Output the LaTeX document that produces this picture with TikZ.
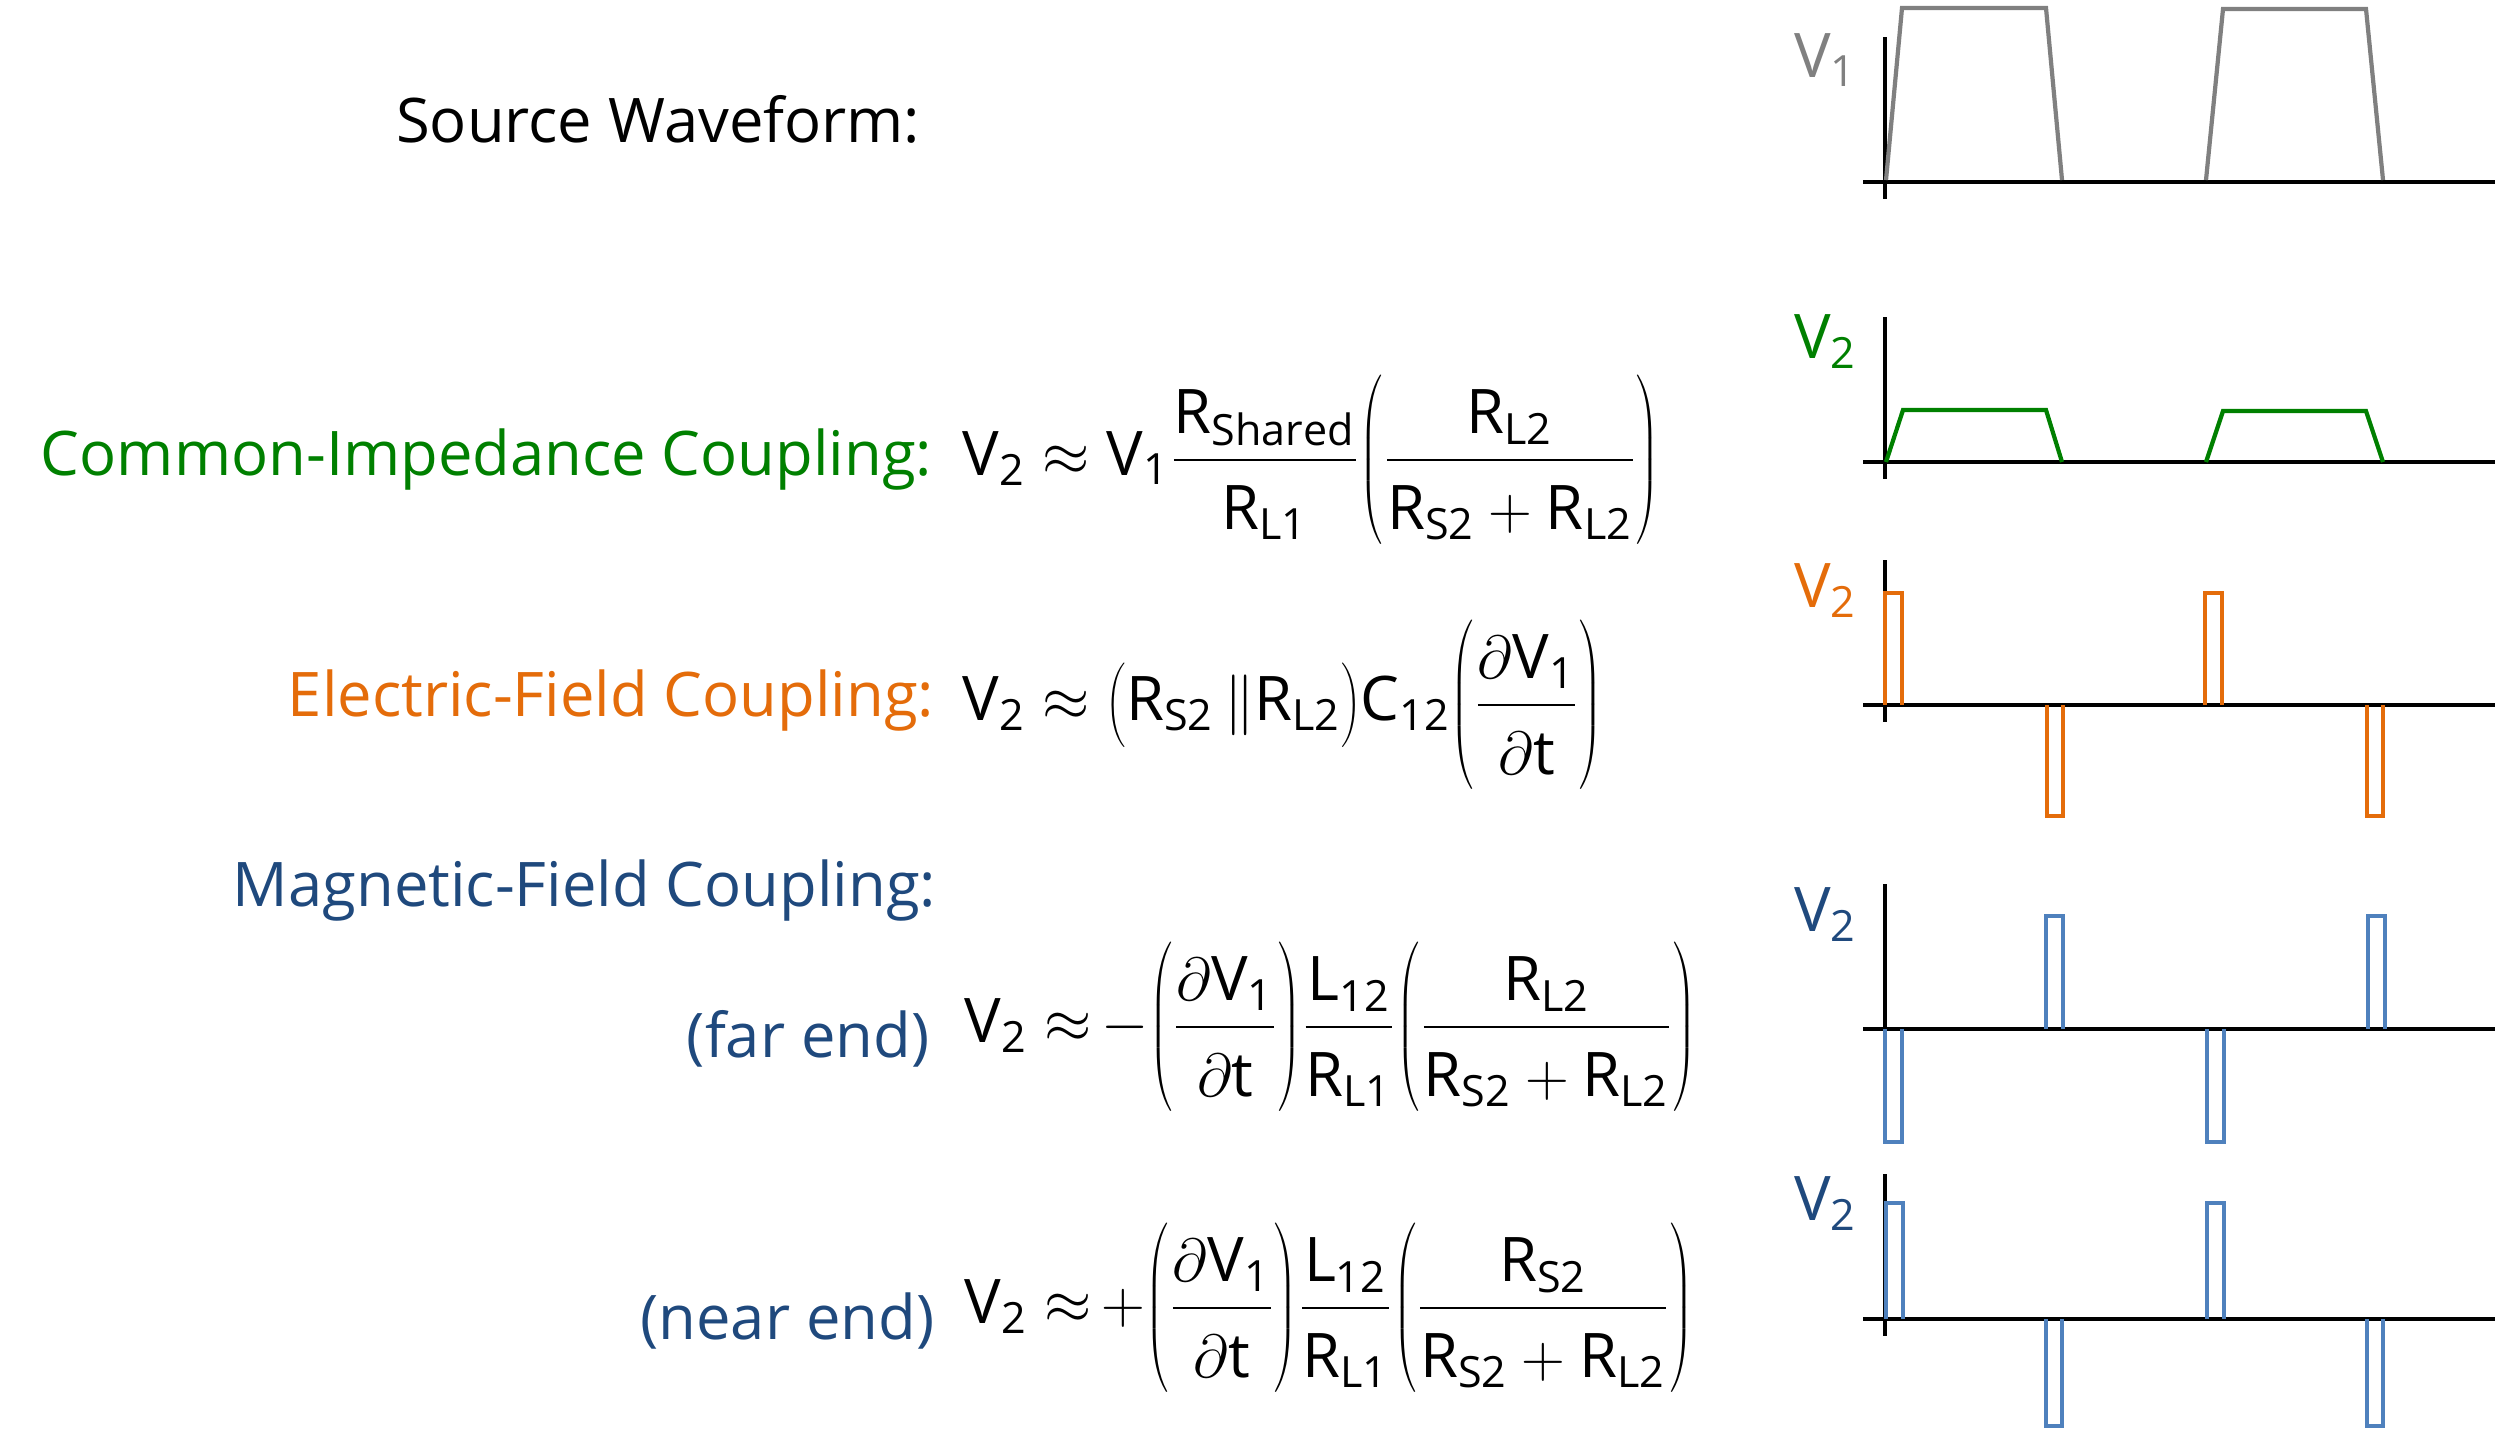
\documentclass[tikz,border=0pt]{standalone}
\usepackage{fontspec}
\usepackage{graphicx}
\setmainfont{Open Sans}
\definecolor{srcgray}{HTML}{808080}
\definecolor{cigreen}{HTML}{008000}
\definecolor{eforange}{HTML}{E46C0A}
\definecolor{mftext}{HTML}{1F497D}
\definecolor{mfwave}{HTML}{4F81BD}
\newcommand{\dnstrut}{\rule{0pt}{1.05em}}
\newcommand{\eqlp}[1]{\mathopen{\scalebox{0.75}[1]{$\left(\vcenter to #1{}\right.\kern-\nulldelimiterspace$}}}
\newcommand{\eqrp}[1]{\mathclose{\scalebox{0.75}[1]{$\kern-\nulldelimiterspace\left.\vcenter to #1{}\right)$}}}
\begin{document}
\begin{tikzpicture}[x=0.1mm,y=-0.1mm,
  lbl/.style={anchor=base east,inner sep=0pt,font=\fontsize{17.5}{21}\selectfont},
  eqn/.style={anchor=base west,inner sep=0pt,font=\fontsize{17.5}{21}\selectfont},
  vlbl/.style={anchor=base east,inner sep=0pt,font=\fontsize{17.5}{21}\selectfont},
  axis/.style={black,line width=1.3pt},
  wave/.style={line width=1.2pt}]
\useasboundingbox (0,0) rectangle (2500,1430);

% labels
\node[lbl] (src) at (921,142) {Source Waveform:};
\node[lbl,text=cigreen] (cic) at (933,475) {Common-Impedance Coupling:};
\node[lbl,text=eforange] (efc) at (935,716) {Electric-Field Coupling:};
\node[lbl,text=mftext] (mfc) at (937,906) {Magnetic-Field Coupling:};
\node[lbl,text=mftext] (far) at (930,1057) {(far end)};
\node[lbl,text=mftext] (near) at (935,1339) {(near end)};

% equations
\node[eqn] (eqci) at (962,475) {$\displaystyle\rm V_2\approx V_1\frac{R_{Shared}}{\dnstrut R_{L1}}\eqlp{52pt}\frac{R_{L2}}{\dnstrut R_{S2}+R_{L2}}\eqrp{52pt}$};
\node[eqn] (eqef) at (962,720) {$\displaystyle\rm V_2\approx \eqlp{26pt}R_{S2}\,\|R_{L2}\eqrp{26pt}C_{12}\eqlp{50pt}\frac{\partial V_1}{\dnstrut\partial t}\eqrp{50pt}$};
\node[eqn] (eqfar) at (964,1042) {$\displaystyle\rm V_2\approx\mskip-2mu-\eqlp{47pt}\frac{\partial V_1}{\dnstrut\partial t}\eqrp{47pt}\frac{L_{12}}{\dnstrut R_{L1}}\eqlp{47pt}\frac{R_{L2}}{\dnstrut R_{S2}+R_{L2}}\eqrp{47pt}$};
\node[eqn] (eqnear) at (964,1323) {$\displaystyle\rm V_2\approx\mskip-2mu+\eqlp{47pt}\frac{\partial V_1}{\dnstrut\partial t}\eqrp{47pt}\frac{L_{12}}{\dnstrut R_{L1}}\eqlp{47pt}\frac{R_{S2}}{\dnstrut R_{S2}+R_{L2}}\eqrp{47pt}$};

% axis labels
\node[vlbl,text=srcgray] (v1) at (1858,77) {$\rm V_1$};
\node[vlbl,text=cigreen] (v2ci) at (1858,358) {$\rm V_2$};
\node[vlbl,text=eforange] (v2ef) at (1858,607) {$\rm V_2$};
\node[vlbl,text=mftext] (v2far) at (1858,931) {$\rm V_2$};
\node[vlbl,text=mftext] (v2near) at (1858,1220) {$\rm V_2$};

% axes
\foreach \y in {182,462,705,1029,1319}{
  \draw[axis] (1885,\y-145) -- (1885,\y+17);
  \draw[axis] (1863,\y) -- (2495,\y);
}

% source waveform
\draw[wave,srcgray] (1886,180) -- (1902,8) -- (2046,8) -- (2062,180)
  (2206,180) -- (2223,9) -- (2366,9) -- (2383,180);

% common impedance
\draw[wave,cigreen] (1886,462) -- (1903,410) -- (2046,410) -- (2062,462)
  (2206,462) -- (2223,411) -- (2366,411) -- (2383,462);

% electric field
\foreach \x in {0,320}{
  \draw[wave,eforange] (1885+\x,705) -- (1885+\x,593) -- (1902+\x,593) -- (1902+\x,705);
  \draw[wave,eforange] (2047+\x,705) -- (2047+\x,816) -- (2063+\x,816) -- (2063+\x,705);
}

% magnetic field, far end
\foreach \x in {0,322}{
  \draw[wave,mfwave] (1885+\x,1029) -- (1885+\x,1142) -- (1902+\x,1142) -- (1902+\x,1029);
  \draw[wave,mfwave] (2046+\x,1029) -- (2046+\x,916) -- (2063+\x,916) -- (2063+\x,1029);
}

% magnetic field, near end
\foreach \x in {0,321}{
  \draw[wave,mfwave] (1886+\x,1319) -- (1886+\x,1203) -- (1903+\x,1203) -- (1903+\x,1319);
  \draw[wave,mfwave] (2046+\x,1319) -- (2046+\x,1426) -- (2062+\x,1426) -- (2062+\x,1319);
}
\end{tikzpicture}
\end{document}
